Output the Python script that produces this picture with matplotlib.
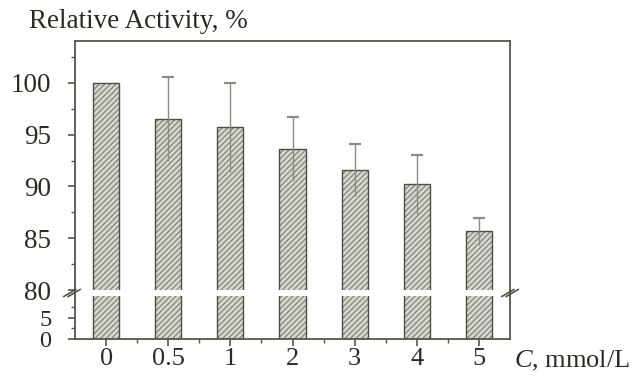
import matplotlib
matplotlib.use("Agg")
import matplotlib.pyplot as plt
import numpy as np

# Relative activity of the enzyme at increasing concentration
categories = ["0", "0.5", "1", "2", "3", "4", "5"]
activity = [100.0, 96.5, 95.7, 93.6, 91.6, 90.2, 85.7]
errors = [0.0, 4.0, 4.3, 3.1, 2.5, 2.8, 1.3]
upper_ticks = [80, 85, 90, 95, 100]
lower_ticks = [0, 5]

plt.rcParams["font.family"] = ["Liberation Serif", "DejaVu Serif"]
plt.rcParams["mathtext.fontset"] = "custom"
plt.rcParams["mathtext.rm"] = "Liberation Serif"
plt.rcParams["mathtext.it"] = "Liberation Serif:italic"
plt.rcParams["hatch.linewidth"] = 0.75
plt.rcParams["hatch.color"] = "#77776e"

spine_c = "#55554a"
text_c = "#2b2b24"
err_c = "#8c8c84"
fs = 19.5

fig = plt.figure(figsize=(6.36, 3.77), dpi=100)
W, H = 636, 377
left, right = 75 / W, 510 / W
y_top, y_brk, y_bot = 41, 293, 339
ax_up = fig.add_axes([left, 1 - y_brk / H, right - left, (y_brk - y_top) / H])
ax_lo = fig.add_axes([left, 1 - y_bot / H, right - left, (y_bot - y_brk) / H])

x = np.arange(len(categories))
width = 0.42

for ax in (ax_up, ax_lo):
    ax.bar(x, activity, width, color="#d6d6ce", hatch="//////",
           edgecolor="#77776e", linewidth=0, zorder=1)
    ax.bar(x, activity, width, fill=False, edgecolor="#4d4d44",
           linewidth=1.0, zorder=1.5)
    ax.set_xlim(-0.5, 6.5)
    for s in ax.spines.values():
        s.set_color(spine_c)
        s.set_linewidth(1.3)
    ax.tick_params(colors=spine_c, labelcolor=text_c, labelsize=fs,
                   direction="out", width=1.2, length=5)
    ax.tick_params(which="minor", colors=spine_c, width=1.0, length=3)
    ax.tick_params(axis="y", pad=12)

# error bars on the upper panel
ax_up.errorbar(x[1:], activity[1:], yerr=errors[1:], fmt="none",
               ecolor=err_c, elinewidth=1.0, capsize=0, zorder=3)
ax_up.plot(x[1:], np.array(activity[1:]) + np.array(errors[1:]),
           ls="none", marker="_", ms=8, mew=1.6, color=err_c, zorder=3)

ax_up.set_ylim(79.75, 104)
ax_up.set_yticks(upper_ticks)
ax_up.set_yticks(np.arange(80, 104, 2.5), minor=True)
ax_up.spines["bottom"].set_visible(False)
ax_up.tick_params(axis="x", which="both", bottom=False, labelbottom=False)

ax_lo.set_ylim(0, 10.95)
ax_lo.set_yticks(lower_ticks)
ax_lo.set_yticks([2.5, 7.5], minor=True)
ax_lo.tick_params(axis="y", labelsize=17.5)
ax_lo.spines["top"].set_visible(False)
ax_lo.set_xticks(x)
ax_lo.set_xticklabels(categories)
ax_lo.set_xticks(x[:-1] + 0.5, minor=True)
ax_lo.tick_params(axis="x", pad=1.5, labelsize=19)

# white gap across the bars at the axis break
ax_up.axhspan(79.75, 80.05, color="white", lw=0, zorder=2)
ax_lo.axhspan(10.3, 10.95, color="white", lw=0, zorder=2)

# break marks on both spines
ybr = 1 - y_brk / H
for xc in (72 / W, 510 / W):
    for dx in (-2.2 / W, 2.2 / W):
        fig.add_artist(plt.Line2D([xc + dx - 6 / W, xc + dx + 6 / W],
                                  [ybr - 3.5 / H, ybr + 3.5 / H],
                                  color=spine_c, lw=1.2))

fig.text(29 / W, 1 - 21 / H, "Relative Activity, %", fontsize=fs,
         color=text_c, va="center", ha="left")
fig.text(514 / W, 1 - 361 / H, r"$C$, mmol/L", fontsize=19,
         color=text_c, va="center", ha="left")

fig.savefig("out.png", dpi=100)
